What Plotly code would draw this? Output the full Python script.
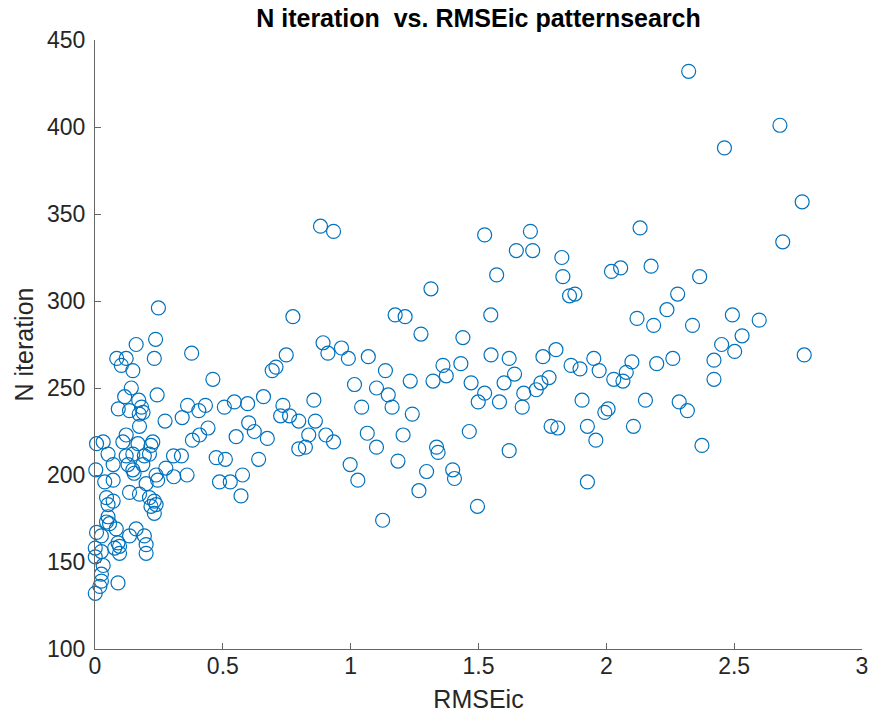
import plotly.graph_objects as go

# RMSEic values (x) and N iteration values (y)
rmse_left = [0.248, 0.161, 0.237, 0.232, 0.085, 0.122, 0.103, 0.148, 0.378, 0.461,
             0.693, 0.708, 0.142, 0.243, 0.116, 0.171, 0.091, 0.135, 0.182, 0.173,
             0.188, 0.274, 0.341, 0.362, 0.406, 0.432, 0.506, 0.545, 0.597, 0.659,
             0.601, 0.174, 0.442, 0.409, 0.381, 0.552, 0.623, 0.674, 0.006, 0.032,
             0.122, 0.109, 0.168, 0.226, 0.219, 0.051, 0.122, 0.148, 0.193, 0.213,
             0.307, 0.338, 0.474, 0.510, 0.640, 0.071, 0.129, 0.187, 0.277, 0.003,
             0.148, 0.153, 0.239, 0.308, 0.360, 0.487, 0.529, 0.577, 0.571, 0.038,
             0.071, 0.200, 0.245, 0.135, 0.174, 0.213, 0.232, 0.239, 0.219, 0.232,
             0.045, 0.071, 0.051, 0.051, 0.045, 0.057, 0.006, 0.025, 0.083, 0.161,
             0.193, 0.135, 0.200, 0.090, 0.096, 0.001, 0.077, 0.200, 0.001, 0.025,
             0.096, 0.032, 0.025, 0.025, 0.090, 0.019, 0.001]
iter_left = [296, 275, 278, 267, 267, 267, 263, 260, 270, 255,
             260, 262, 250, 246, 245, 243, 238, 237, 239, 235,
             236, 231, 233, 240, 237, 240, 239, 242, 241, 245,
             230, 228, 227, 223, 220, 222, 225, 221, 218, 219,
             223, 219, 218, 219, 217, 212, 211, 212, 211, 212,
             211, 211, 210, 209, 209, 206, 206, 206, 204, 203,
             203, 201, 200, 199, 200, 196, 196, 200, 188, 196,
             197, 195, 197, 190, 189, 187, 185, 183, 182, 178,
             187, 185, 183, 176, 173, 172, 167, 165, 169, 169,
             165, 165, 160, 161, 159, 158, 158, 155, 153, 156,
             155, 148, 143, 139, 138, 136, 132]

rmse_mid = [0.882, 0.933, 1.524, 1.703, 1.648, 1.712, 1.826, 1.830, 1.571, 1.314,
            0.774, 1.174, 1.213, 1.548, 1.275, 1.439, 0.892, 0.911, 0.964, 0.991,
            1.069, 0.748, 1.549, 1.620, 1.752, 1.803, 1.361, 1.431, 1.136, 1.374,
            1.233, 1.322, 1.015, 1.471, 1.600, 1.641, 1.776, 1.744, 1.726, 1.677,
            1.671, 1.582, 1.524, 1.499, 1.101, 1.147, 1.162, 1.043, 1.241, 0.735,
            0.726, 0.761, 0.797, 0.856, 0.862, 0.836, 0.903, 0.933, 0.823, 0.797,
            1.065, 1.205, 1.101, 1.464, 1.336, 1.342, 1.620, 1.784, 1.810, 0.998,
            1.185, 1.028, 1.297, 1.399, 1.406, 1.267, 1.496, 1.125]
iter_mid = [343, 340, 338, 340, 329, 329, 325, 314, 315, 307,
            291, 292, 291, 292, 281, 279, 276, 270, 273, 267,
            268, 269, 269, 267, 268, 272, 263, 264, 260, 257,
            254, 254, 252, 253, 253, 258, 256, 253, 249, 247,
            239, 242, 247, 242, 250, 246, 239, 239, 235, 240,
            234, 234, 231, 243, 231, 223, 223, 219, 216, 215,
            224, 223, 216, 225, 216, 213, 214, 228, 227, 206,
            208, 197, 202, 203, 198, 191, 182, 174]

rmse_right = [2.766, 2.690, 2.132, 1.856, 1.877, 2.020, 2.056, 2.175, 2.365, 2.279,
              2.237, 2.120, 2.185, 2.337, 2.493, 2.598, 2.531, 2.451, 2.502, 2.421,
              2.421, 2.774, 1.862, 1.897, 1.951, 1.972, 2.029, 2.065, 2.078, 2.100,
              2.197, 2.260, 1.905, 1.994, 2.007, 2.153, 2.285, 2.317, 1.926, 1.959,
              2.106, 2.374, 1.926, 2.322, 2.679, 2.462]
iter_right = [357, 334, 342, 303, 304, 317, 319, 320, 314, 304,
              295, 290, 286, 286, 292, 289, 280, 275, 271, 266,
              255, 269, 263, 261, 267, 260, 255, 254, 259, 265,
              264, 267, 243, 236, 238, 243, 242, 237, 228, 220,
              228, 217, 196, 432, 401, 388]

rmse = rmse_left + rmse_mid + rmse_right
n_iter = iter_left + iter_mid + iter_right

x_ticks = [0, 0.5, 1, 1.5, 2, 2.5, 3]
x_tick_text = ["0", "0.5", "1", "1.5", "2", "2.5", "3"]
y_ticks = [100, 150, 200, 250, 300, 350, 400, 450]

axis_color = "#262626"
line_color = "#666666"

fig = go.Figure(go.Scatter(
    x=rmse, y=n_iter, mode="markers", cliponaxis=False,
    marker=dict(symbol="circle-open", size=14, color="#0072BD",
                line=dict(width=1.2, color="#0072BD")),
))

fig.update_layout(
    width=875, height=722,
    margin=dict(l=95, r=7, t=40, b=73),
    paper_bgcolor="white", plot_bgcolor="white",
    showlegend=False,
    font=dict(family="Liberation Sans, Arial, sans-serif", color=axis_color),
    title=dict(text="<b>N iteration  vs. RMSEic patternsearch</b>",
               x=0.5, xref="paper", xanchor="center",
               y=1, yref="container", yanchor="top", pad=dict(t=9),
               font=dict(size=25, color="black")),
)
fig.update_xaxes(
    range=[0, 3], tickvals=x_ticks, ticktext=x_tick_text,
    showgrid=False, zeroline=False, showline=True, linecolor=line_color, linewidth=1,
    ticks="inside", ticklen=6, tickcolor=line_color,
    tickfont=dict(size=23, color=axis_color), ticklabelstandoff=-4,
    title=dict(text="RMSEic", font=dict(size=25, color=axis_color), standoff=12),
)
fig.update_yaxes(
    range=[100, 450], tickvals=y_ticks,
    showgrid=False, zeroline=False, showline=True, linecolor=line_color, linewidth=1,
    ticks="inside", ticklen=6, tickcolor=line_color,
    tickfont=dict(size=23, color=axis_color), ticklabelstandoff=4,
    title=dict(text="N iteration", font=dict(size=25, color=axis_color), standoff=6),
)

fig.write_html("out.html")
